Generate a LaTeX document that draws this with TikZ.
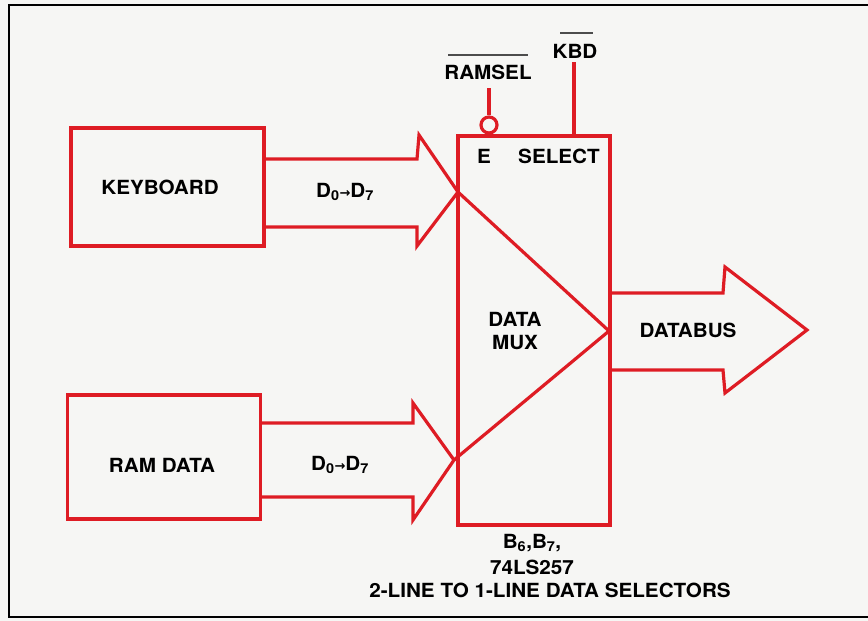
\documentclass[tikz,border=0pt]{standalone}
\usepackage{fontspec}
\setmainfont[FakeStretch=1.06]{TeX Gyre Heros}
\newfontfamily\arrowfont{DejaVu Sans}
\definecolor{mred}{RGB}{222,28,36}
\definecolor{paper}{RGB}{246,246,244}
\begin{document}
\begin{tikzpicture}[x=1pt,y=-1pt,
  redline/.style={draw=mred, line width=3.2pt, line join=miter},
  boxnode/.style={redline, rectangle, inner sep=0pt},
  lbl/.style={font=\fontsize{19.5}{22.5}\selectfont\bfseries, text=black, inner sep=0pt, align=center},
  overbar/.style={draw=black!70, line width=1.2pt}]
\useasboundingbox (0,0) rectangle (868,621);
\fill[paper] (0,0) rectangle (868,621);
\draw[black, line width=2pt] (868,5) -- (9,5) -- (9,617) -- (868,617);
% boxes
\node[boxnode, minimum width=193pt, minimum height=118pt] (kb) at (167.5,187) {};
\node[boxnode, minimum width=193pt, minimum height=124pt] (ram) at (164,457) {};
\node[boxnode, minimum width=152pt, minimum height=389pt] (mux) at (534,330.5) {};
% labels in boxes
\node[lbl] (kbt) at (160,187) {KEYBOARD};
\node[lbl] (ramt) at (162,465) {RAM DATA};
\node[lbl] (muxt) at (515,331) {DATA\\MUX};
\node[lbl] (et) at (484,156) {E};
\node[lbl] (selt) at (559,156) {SELECT};
% input arrows
\coordinate (kbtip) at (458,192);
\coordinate (ramtip) at (454,460);
\coordinate (outtip) at (807,330);
\coordinate (muxtip) at (609,331);
\draw[redline] (kb.east |- 0,159) -- (417,159) -- (419,135) -- (kbtip) -- (417,246) -- (417,227) -- (kb.east |- 0,227);
\draw[redline] (ram.east |- 0,423) -- (413,423) -- (413,403) -- (ramtip) -- (413,520) -- (413,497) -- (ram.east |- 0,497);
\node[lbl] (d1) at (345,192) {D\textsubscript{0}{\arrowfont\fontsize{13}{13}\selectfont →}D\textsubscript{7}};
\node[lbl] (d2) at (340,465) {D\textsubscript{0}{\arrowfont\fontsize{13}{13}\selectfont →}D\textsubscript{7}};
% inner triangle
\draw[redline] (kbtip) -- (muxtip) -- (ramtip);
% output arrow
\draw[redline] (mux.east |- 0,293) -- (723,293) -- (725,267) -- (outtip) -- (725,393) -- (723,370) -- (mux.east |- 0,370);
\node[lbl] (dbt) at (688,330) {DATABUS};
% control inputs
\node[circle, draw=mred, line width=3.2pt, minimum size=16pt, inner sep=0pt] (bub) at (489,125) {};
\node[lbl] (ramsel) at (488,72) {RAMSEL};
\coordinate (rs) at (489,88);
\draw[redline] (bub.north) -- (rs);
\node[lbl] (kbd) at (575,51) {KBD};
\coordinate (kbdin) at (574,62);
\draw[redline] (mux.north -| kbdin) -- (kbdin);
\draw[overbar] (448,55) -- (528,55);
\draw[overbar] (560,33) -- (593,33);
% caption
\node[lbl] (cap1) at (532,543) {B\textsubscript{6},B\textsubscript{7},};
\node[lbl] (cap2) at (532,567) {74LS257};
\node[lbl] (cap3) at (550,590) {2-LINE TO 1-LINE DATA SELECTORS};
\end{tikzpicture}
\end{document}
